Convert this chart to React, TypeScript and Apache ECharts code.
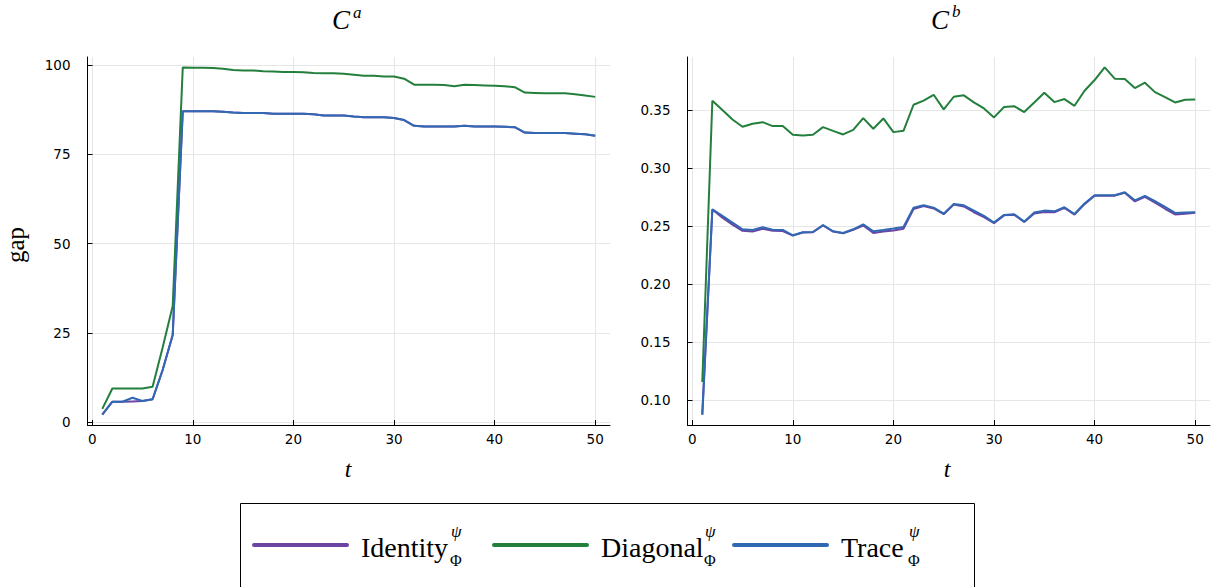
import React, { useEffect, useRef } from "react";
import * as echarts from "echarts";

// time steps
const t = [
  1, 2, 3, 4, 5, 6, 7, 8, 9, 10, 11, 12, 13, 14, 15, 16, 17, 18, 19, 20, 21, 22, 23, 24, 25,
  26, 27, 28, 29, 30, 31, 32, 33, 34, 35, 36, 37, 38, 39, 40, 41, 42, 43, 44, 45, 46, 47, 48, 49, 50,
];

// panel C^a
const caIdentity = [
  2.1, 5.7, 5.7, 5.8, 5.9, 6.4, 14.6, 24.4, 87.1, 87.1, 87.1, 87.1, 86.9, 86.7, 86.6, 86.6, 86.6,
  86.4, 86.4, 86.4, 86.4, 86.2, 85.9, 85.9, 85.9, 85.6, 85.4, 85.4, 85.4, 85.2, 84.6, 83.0, 82.8,
  82.8, 82.8, 82.8, 83.0, 82.8, 82.8, 82.8, 82.7, 82.6, 81.1, 81.0, 81.0, 81.0, 81.0, 80.8, 80.6, 80.2,
];
const caDiagonal = [
  3.7, 9.4, 9.4, 9.4, 9.4, 9.9, 20.9, 32.5, 99.35, 99.25, 99.25, 99.2, 99.0, 98.6, 98.5, 98.5, 98.3,
  98.2, 98.1, 98.1, 98.0, 97.8, 97.7, 97.7, 97.6, 97.3, 97.0, 97.0, 96.8, 96.8, 96.2, 94.5, 94.5,
  94.5, 94.4, 94.1, 94.5, 94.4, 94.3, 94.2, 94.1, 93.8, 92.3, 92.2, 92.1, 92.1, 92.1, 91.8, 91.5, 91.1,
];
const caTrace = [
  2.1, 5.7, 5.7, 6.8, 5.9, 6.4, 14.6, 24.4, 87.1, 87.1, 87.1, 87.1, 86.9, 86.7, 86.6, 86.6, 86.6,
  86.4, 86.4, 86.4, 86.4, 86.2, 85.9, 85.9, 85.9, 85.6, 85.4, 85.4, 85.4, 85.2, 84.6, 83.0, 82.8,
  82.8, 82.8, 82.8, 83.0, 82.8, 82.8, 82.8, 82.7, 82.6, 81.1, 81.0, 81.0, 81.0, 81.0, 80.8, 80.6, 80.2,
];

// panel C^b
const cbIdentity = [
  0.0877, 0.2645, 0.2575, 0.2515, 0.2462, 0.2455, 0.248, 0.2462, 0.246, 0.242, 0.2447, 0.245,
  0.2508, 0.2455, 0.244, 0.247, 0.2508, 0.2443, 0.2455, 0.2465, 0.248, 0.265, 0.2675, 0.2655,
  0.2605, 0.2688, 0.2672, 0.2622, 0.258, 0.2528, 0.2595, 0.26, 0.2538, 0.2612, 0.2625, 0.2622,
  0.266, 0.2602, 0.2692, 0.2765, 0.2765, 0.2765, 0.279, 0.2715, 0.2755, 0.2705, 0.2652, 0.2603,
  0.261, 0.2618,
];
const cbDiagonal = [
  0.1158, 0.3584, 0.3503, 0.3422, 0.3359, 0.3385, 0.3399, 0.3365, 0.3365, 0.329, 0.3284, 0.329,
  0.3356, 0.3324, 0.3293, 0.3333, 0.3434, 0.3342, 0.3431, 0.3313, 0.3324, 0.3549, 0.3584, 0.3635,
  0.3509, 0.3618, 0.363, 0.3569, 0.3517, 0.344, 0.3529, 0.3537, 0.3486, 0.3569, 0.3653, 0.3572,
  0.3598, 0.354, 0.367, 0.3762, 0.3871, 0.3774, 0.3771, 0.3693, 0.3739, 0.3658, 0.3615, 0.3569,
  0.3592, 0.3595,
];
const cbTrace = [
  0.0877, 0.2648, 0.259, 0.2533, 0.2475, 0.2469, 0.2492, 0.2472, 0.2469, 0.2423, 0.2449, 0.2452,
  0.2512, 0.2458, 0.2443, 0.2475, 0.2518, 0.2458, 0.2469, 0.2481, 0.2495, 0.2662, 0.2682, 0.2662,
  0.261, 0.2694, 0.2682, 0.2636, 0.259, 0.2533, 0.2599, 0.2605, 0.2541, 0.2619, 0.2636, 0.263,
  0.2665, 0.2607, 0.2697, 0.2769, 0.2769, 0.2769, 0.2795, 0.2725, 0.2763, 0.2717, 0.2668, 0.2616,
  0.2619, 0.2622,
];

const xTicks = [0, 10, 20, 30, 40, 50];
const caTicks = [0, 25, 50, 75, 100];
const cbTicks = [0.1, 0.15, 0.2, 0.25, 0.3, 0.35];

const names = ["Identity", "Diagonal", "Trace"];
const colors = ["#6c45a3", "#237f3c", "#3068b4"];

const SANS = "DejaVu Sans";
const SERIF = "Liberation Serif";

// pad an extent by 3% on each side
function padded(values: number[][]) {
  const all = values.flat();
  const lo = Math.min(...all);
  const hi = Math.max(...all);
  const d = (hi - lo) * 0.03;
  return [lo - d, hi + d];
}

export default function App() {
  const ref = useRef<HTMLDivElement>(null);

  useEffect(() => {
    if (!ref.current) return;
    const chart = echarts.init(ref.current, null, { renderer: "svg" });

    const xPad = padded([t]);
    const caExt = padded([caIdentity, caDiagonal, caTrace]);
    const cbExt = padded([cbIdentity, cbDiagonal, cbTrace]);

    const xAxisBase = (gridIndex: number) => ({
      type: "value" as const,
      gridIndex,
      min: xPad[0],
      max: xPad[1],
      axisLine: { show: true, onZero: false, lineStyle: { color: "#000", width: 1 } },
      axisTick: { show: true, inside: true, length: 5, customValues: xTicks, lineStyle: { color: "#000" } },
      axisLabel: {
        customValues: xTicks,
        margin: 7,
        color: "#000",
        fontFamily: SANS,
        fontSize: 13.5,
      },
      splitLine: { show: true, lineStyle: { color: "#e6e6e6", width: 1 } },
    });

    const yAxisBase = (gridIndex: number, ext: number[], ticks: number[], fmt: (v: number) => string) => ({
      type: "value" as const,
      gridIndex,
      min: ext[0],
      max: ext[1],
      axisLine: { show: true, onZero: false, lineStyle: { color: "#000", width: 1 } },
      axisTick: { show: true, inside: true, length: 5, customValues: ticks, lineStyle: { color: "#000" } },
      axisLabel: {
        customValues: ticks,
        formatter: fmt,
        margin: 17,
        color: "#000",
        fontFamily: SANS,
        fontSize: 13.5,
      },
      splitLine: { show: true, lineStyle: { color: "#e6e6e6", width: 1 } },
    });

    const pair = (ys: number[]) => t.map((x, i) => [x, ys[i]]);
    const line = (name: string, color: string, data: number[][], idx: number) => ({
      name,
      type: "line" as const,
      xAxisIndex: idx,
      yAxisIndex: idx,
      data,
      showSymbol: false,
      symbol: "none",
      lineStyle: { color, width: 2 },
      itemStyle: { color },
    });

    const legendY = 545;
    const legendItems = [
      { x1: 254, x2: 347, tx: 361, sx: 450 },
      { x1: 494, x2: 587, tx: 601, sx: 704 },
      { x1: 734, x2: 827, tx: 841, sx: 908 },
    ];

    const graphic: any[] = [
      // panel titles
      { type: "text", left: 332, top: 6, style: { text: "C", font: `italic 27px "${SERIF}"`, fill: "#000" } },
      { type: "text", left: 353, top: 4, style: { text: "a", font: `italic 17px "${SERIF}"`, fill: "#000" } },
      { type: "text", left: 931, top: 6, style: { text: "C", font: `italic 27px "${SERIF}"`, fill: "#000" } },
      { type: "text", left: 952, top: 3, style: { text: "b", font: `italic 17px "${SERIF}"`, fill: "#000" } },
      // axis names
      {
        type: "text",
        x: 15,
        y: 245,
        rotation: Math.PI / 2,
        style: { text: "gap", font: `25px "${SERIF}"`, fill: "#000", align: "center", verticalAlign: "middle" },
      },
      { type: "text", x: 348, y: 469, style: { text: "t", font: `italic 24px "${SERIF}"`, fill: "#000", align: "center", verticalAlign: "middle" } },
      { type: "text", x: 947, y: 469, style: { text: "t", font: `italic 24px "${SERIF}"`, fill: "#000", align: "center", verticalAlign: "middle" } },
      // legend frame
      { type: "rect", shape: { x: 240.5, y: 503.5, width: 734, height: 100 }, style: { fill: "#fff", stroke: "#000", lineWidth: 1 } },
    ];
    legendItems.forEach((it, i) => {
      graphic.push(
        { type: "line", shape: { x1: it.x1, y1: legendY, x2: it.x2, y2: legendY }, style: { stroke: colors[i], lineWidth: 4, lineCap: "round" } },
        { type: "text", x: it.tx, y: legendY + 2, style: { text: names[i], font: `28px "${SERIF}"`, fill: "#000", align: "left", verticalAlign: "middle" } },
        { type: "text", x: it.sx, y: legendY + 15, style: { text: "Φ", font: `16px "${SERIF}"`, fill: "#000", align: "left", verticalAlign: "middle" } },
        { type: "text", x: it.sx + 1, y: legendY - 14, style: { text: "ψ", font: `italic 17px "${SERIF}"`, fill: "#000", align: "left", verticalAlign: "middle" } }
      );
    });

    chart.setOption({
      animation: false,
      backgroundColor: "#fff",
      grid: [
        { left: 87.5, top: 57, width: 522.5, height: 368 },
        { left: 687.5, top: 57, width: 522.5, height: 368 },
      ],
      xAxis: [xAxisBase(0), xAxisBase(1)],
      yAxis: [
        yAxisBase(0, caExt, caTicks, (v: number) => String(Math.round(v))),
        yAxisBase(1, cbExt, cbTicks, (v: number) => v.toFixed(2)),
      ],
      series: [
        line(names[0], colors[0], pair(caIdentity), 0),
        line(names[1], colors[1], pair(caDiagonal), 0),
        line(names[2], colors[2], pair(caTrace), 0),
        line(names[0], colors[0], pair(cbIdentity), 1),
        line(names[1], colors[1], pair(cbDiagonal), 1),
        line(names[2], colors[2], pair(cbTrace), 1),
      ],
      graphic,
    });

    return () => chart.dispose();
  }, []);

  return (
    <div
      ref={ref}
      style={{ position: "fixed", left: 0, top: 0, width: 1225, height: 587, background: "#fff" }}
    />
  );
}
